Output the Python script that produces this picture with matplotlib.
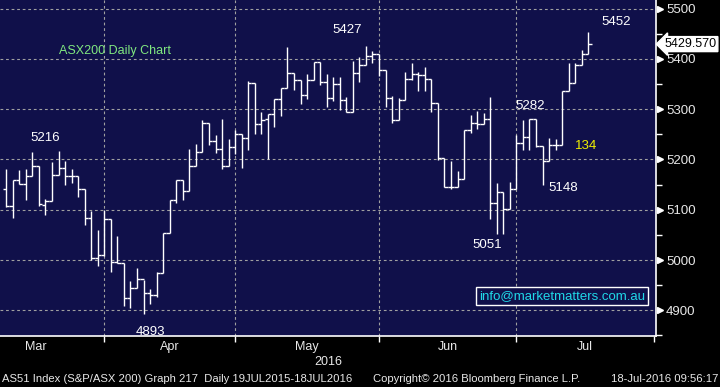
import numpy as np
import pandas as pd
import matplotlib
matplotlib.use("Agg")
import matplotlib.pyplot as plt
import matplotlib.transforms as mtransforms

# ASX trading calendar 2016 (Easter, Anzac Day and Queen's Birthday closed)
holidays = ["2016-03-25", "2016-03-28", "2016-04-25", "2016-06-13"]
first_day = "2016-03-09"
last_day = "2016-07-18"

opens = [5142, 5108, 5159, 5151, 5167, 5187, 5110, 5117, 5169, 5184,
         5167, 5167, 5142, 5084, 5004, 5011, 5082, 4997, 4994, 4924,
         4944, 4962, 4935, 4931, 4974, 5054, 5119, 5159, 5137, 5188,
         5215, 5273, 5236, 5220, 5187, 5225, 5251, 5243, 5352, 5271,
         5281, 5291, 5321, 5342, 5372, 5359, 5329, 5358, 5393, 5354,
         5322, 5350, 5318, 5295, 5372, 5388, 5405, 5409, 5379, 5323,
         5279, 5319, 5360, 5370, 5368, 5360, 5313, 5203, 5146, 5146,
         5162, 5258, 5273, 5271, 5281, 5113, 5135, 5102, 5142, 5233,
         5244, 5281, 5226, 5198, 5228, 5228, 5337, 5352, 5388, 5410]
highs = [5182, 5159, 5179, 5182, 5215, 5187, 5122, 5195, 5217, 5197,
         5182, 5167, 5142, 5097, 5059, 5099, 5082, 5047, 4994, 4959,
         4985, 4961, 4942, 4977, 5054, 5119, 5159, 5159, 5220, 5231,
         5279, 5273, 5248, 5281, 5240, 5258, 5251, 5357, 5352, 5294,
         5291, 5321, 5342, 5424, 5372, 5359, 5370, 5393, 5393, 5370,
         5364, 5365, 5324, 5395, 5403, 5426, 5415, 5409, 5379, 5327,
         5323, 5375, 5392, 5375, 5385, 5360, 5313, 5203, 5198, 5178,
         5258, 5289, 5297, 5293, 5325, 5153, 5135, 5156, 5248, 5279,
         5281, 5281, 5226, 5243, 5241, 5337, 5391, 5391, 5417, 5453]
lows = [5105, 5084, 5151, 5119, 5167, 5107, 5089, 5117, 5169, 5149,
        5153, 5125, 5069, 5001, 4989, 5009, 4977, 4994, 4909, 4905,
        4944, 4893, 4912, 4927, 4974, 5054, 5113, 5119, 5137, 5188,
        5215, 5228, 5213, 5182, 5187, 5210, 5183, 5219, 5251, 5251,
        5201, 5264, 5287, 5342, 5338, 5311, 5320, 5358, 5349, 5305,
        5317, 5298, 5295, 5295, 5354, 5388, 5392, 5367, 5305, 5272,
        5279, 5319, 5358, 5336, 5336, 5294, 5199, 5146, 5141, 5146,
        5162, 5252, 5260, 5271, 5082, 5052, 5052, 5102, 5142, 5219,
        5219, 5225, 5150, 5198, 5219, 5228, 5337, 5352, 5388, 5410]
closes = [5108, 5159, 5151, 5167, 5187, 5112, 5117, 5169, 5184, 5167,
          5167, 5142, 5084, 5004, 5011, 5082, 4997, 4994, 4924, 4944,
          4962, 4935, 4931, 4974, 5054, 5119, 5159, 5137, 5188, 5215,
          5273, 5236, 5220, 5187, 5225, 5251, 5243, 5352, 5271, 5279,
          5291, 5321, 5342, 5372, 5359, 5329, 5358, 5393, 5354, 5322,
          5350, 5318, 5295, 5372, 5388, 5405, 5409, 5379, 5323, 5279,
          5319, 5360, 5370, 5368, 5360, 5313, 5203, 5146, 5146, 5162,
          5258, 5273, 5271, 5281, 5113, 5135, 5102, 5142, 5233, 5244,
          5281, 5226, 5198, 5228, 5228, 5337, 5352, 5388, 5410, 5430]
last_price = 5429.570

month_names = ["Mar", "Apr", "May", "Jun", "Jul"]
price_ticks = [4900, 5000, 5100, 5200, 5300, 5400, 5500]
price_minor = [4850, 4950, 5050, 5150, 5250, 5350, 5450]

bg = "#10104a"
txt = "#e8e8e8"

# x = trading day number from 1 Mar 2016
cal = pd.bdate_range("2016-03-01", "2016-08-01", freq="C", holidays=holidays)
pos = np.arange(len(cal))
keep = (cal >= first_day) & (cal <= last_day)
x = pos[keep]
month_start = [pos[cal.month == m][0] for m in range(3, 9)]
month_mid = [(month_start[i] + month_start[i + 1]) / 2 for i in range(5)]

plt.rcParams['font.family'] = ['Liberation Sans', 'DejaVu Sans']

fig = plt.figure(figsize=(7.2, 3.87), dpi=100, facecolor="black")
ax = fig.add_axes([0, 0.1326, 0.9107, 0.8674])
ax.set_facecolor(bg)

# grid
for p in price_ticks:
    ax.axhline(p, color="#a0a0a0", lw=0.8, ls=(0, (2.5, 2.5)), zorder=1)
for m in month_start[1:5]:
    ax.axvline(m, color="#a0a0a0", lw=0.8, ls=(0, (2.5, 2.5)), zorder=1)

# OHLC bars
ax.vlines(x, lows, highs, color="white", lw=1.0, zorder=3)
ax.hlines(opens, x - 0.5, x, color="white", lw=1.0, zorder=3)
ax.hlines(closes, x, x + 0.5, color="white", lw=1.0, zorder=3)

for s in ["top", "left"]:
    ax.spines[s].set_visible(False)
for s in ["bottom", "right"]:
    ax.spines[s].set_color("white")
    ax.spines[s].set_linewidth(1.2)

ax.set_xticks(month_start)
ax.set_xticklabels([])
ax.set_xticks(month_mid, minor=True)
ax.set_xticklabels(month_names, minor=True)
ax.tick_params(axis="x", which="major", colors="white", length=4, width=1)
ax.tick_params(axis="x", which="minor", length=0, pad=4, labelcolor=txt, labelsize=9)

ax.yaxis.tick_right()
ax.set_yticks(price_ticks)
ax.set_yticklabels([str(p) for p in price_ticks])
ax.set_yticks(price_minor, minor=True)
ax.tick_params(axis="y", which="major", length=0, pad=7.5, labelcolor=txt, labelsize=9.5)
ax.tick_params(axis="y", which="minor", length=4, width=1, colors="white")

ax.set_xlim(5.05, 105.3)
ax.set_ylim(4849.5, 5517.3)

trans = mtransforms.blended_transform_factory(ax.transAxes, ax.transData)
ax.plot([1.0066] * len(price_ticks), price_ticks, ls="none", marker=">",
        ms=4.5, color="white", transform=trans, clip_on=False)

# last price tag
ax.text(1.013, last_price, "5429.570", transform=trans, ha="left", va="center",
        color="black", fontsize=9,
        bbox=dict(boxstyle="larrow,pad=0.12", fc="white", ec="white"))

# annotations
ax.text(22.6, 5416, "ASX200 Daily Chart", color="#80e880", fontsize=9, ha="center", va="center")
for label, px, py in [("5216", 12.0, 5243), ("5427", 58.1, 5457), ("5452", 99.2, 5474),
                      ("5282", 86.1, 5306), ("5148", 91.1, 5143), ("5051", 79.5, 5030)]:
    ax.text(px, py, label, color="white", fontsize=9.5, ha="center", va="center")
ax.text(28.0, 4857, "4893", color="white", fontsize=9.5, ha="center", va="center", clip_on=True)
ax.text(94.7, 5227, "134", color="#f0f000", fontsize=9.5, ha="center", va="center")

ax.text(0.857, 0.118, "info@marketmatters.com.au", transform=ax.transAxes, color="#20d8e8",
        fontsize=9.5, ha="center", va="center",
        bbox=dict(boxstyle="square,pad=0.2", fc=bg, ec="white", lw=1))

fig.text(328 / 720, 0.0646, "2016", color=txt, fontsize=9, ha="center", va="center")
fig.text(2 / 720, 0.021, "AS51 Index (S&P/ASX 200) Graph 217  Daily 19JUL2015-18JUL2016",
         color=txt, fontsize=8.1, ha="left", va="center")
fig.text(373 / 720, 0.021, "Copyright\u00a9 2016 Bloomberg Finance L.P.", color=txt,
         fontsize=8.1, ha="left", va="center")
fig.text(718 / 720, 0.021, "18-Jul-2016 09:56:17", color=txt, fontsize=8.1,
         ha="right", va="center")

fig.savefig("out.png", dpi=100, facecolor="black")
